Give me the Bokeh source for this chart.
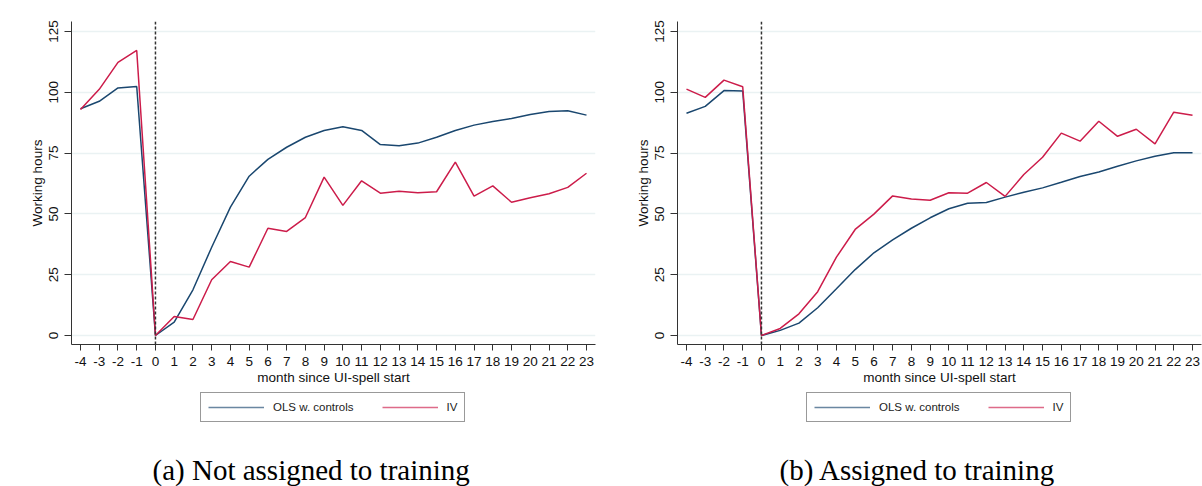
from bokeh.plotting import figure
from bokeh.layouts import row, column
from bokeh.models import Legend, LegendItem, Label, FixedTicker, Range1d, Span
from bokeh.embed import file_html
from bokeh.resources import INLINE

months = list(range(-4, 24))

ols_a = [93.2, 96.3, 101.8, 102.4, 0.0, 5.5, 18.8, 36.3, 52.8, 65.5, 72.4, 77.4, 81.5, 84.3,
         85.8, 84.3, 78.5, 78.0, 79.1, 81.5, 84.3, 86.5, 88.0, 89.2, 90.9, 92.1, 92.4, 90.6]
iv_a = [92.9, 101.2, 112.3, 117.2, 0.0, 7.8, 6.6, 22.9, 30.4, 28.1, 44.1, 42.8, 48.5, 65.1,
        53.5, 63.6, 58.5, 59.3, 58.7, 59.1, 71.3, 57.3, 61.5, 54.8, 56.6, 58.3, 60.9, 66.7]
ols_b = [91.4, 94.2, 100.7, 100.5, 0.0, 2.1, 5.1, 11.4, 19.2, 27.1, 34.0, 39.3, 44.1, 48.4,
         52.1, 54.4, 54.7, 56.9, 58.9, 60.7, 63.0, 65.4, 67.2, 69.6, 71.8, 73.7, 75.1, 75.1]
iv_b = [101.3, 97.9, 105.0, 102.3, 0.0, 2.9, 8.9, 18.0, 32.2, 43.6, 49.9, 57.4, 56.1, 55.6,
        58.7, 58.5, 62.9, 57.2, 66.2, 73.3, 83.2, 79.9, 88.1, 81.9, 84.8, 78.8, 91.8, 90.6]

y_ticks = [0, 25, 50, 75, 100, 125]
month_labels = {m: str(m) for m in months}
series_labels = ["OLS w. controls", "IV"]
captions = ["(a) Not assigned to training", "(b) Assigned to training"]

BLUE = "#1a476f"
RED = "#cc1c4a"
FONT = "Liberation Sans"
TOP_BOTTOM_BORDER = 48
BOTTOM_H = 486 - 21 - 323 - TOP_BOTTOM_BORDER


def make_panel(ols, iv, caption, left_border, right_border, cap_offset):
    p = figure(frame_width=524, frame_height=323,
               output_backend="svg", toolbar_location=None,
               x_range=Range1d(-4.48, 23.48), y_range=Range1d(-3.7, 129.1),
               min_border_left=left_border, min_border_right=right_border,
               min_border_top=21, min_border_bottom=TOP_BOTTOM_BORDER)
    p.outline_line_color = None
    p.background_fill_color = "white"
    p.border_fill_color = "white"

    p.xgrid.grid_line_color = None
    p.ygrid.grid_line_color = "#eaf2f3"
    p.ygrid.grid_line_width = 1.5

    p.xaxis.ticker = FixedTicker(ticks=months)
    p.xaxis.major_label_overrides = month_labels
    p.yaxis.ticker = FixedTicker(ticks=y_ticks)
    for ax in (p.xaxis, p.yaxis):
        ax.axis_line_color = "#333333"
        ax.major_tick_line_color = "#333333"
        ax.major_tick_out = 6
        ax.major_tick_in = 0
        ax.minor_tick_line_color = None
        ax.major_label_text_font = FONT
        ax.major_label_text_font_size = "13.5px"
        ax.major_label_text_color = "#111111"
        ax.axis_label_text_font = FONT
        ax.axis_label_text_font_size = "13.5px"
        ax.axis_label_text_font_style = "normal"
        ax.axis_label_text_color = "#111111"
    p.yaxis.major_tick_out = 7
    p.yaxis.major_label_orientation = "vertical"
    p.xaxis.axis_label = "month since UI-spell start"
    p.yaxis.axis_label = "Working hours"
    p.xaxis.major_label_standoff = 6
    p.xaxis.axis_label_standoff = 1
    p.yaxis.major_label_standoff = 6
    p.yaxis.axis_label_standoff = 2

    vline = Span(location=0, dimension="height", line_color="#333333",
                 line_dash="3 2", line_width=1.5)
    p.add_layout(vline)

    p.line(months, ols, line_color=BLUE, line_width=1.5)
    p.line(months, iv, line_color=RED, line_width=1.5)

    # bottom strip: legend box and caption (series ranges kept outside this strip's view,
    # so only the legend keys of these renderers are shown)
    q = figure(frame_width=524, frame_height=BOTTOM_H,
               output_backend="svg", toolbar_location=None,
               x_range=Range1d(1000, 1001), y_range=Range1d(1000, 1001),
               min_border_left=left_border, min_border_right=right_border,
               min_border_top=0, min_border_bottom=0)
    q.axis.visible = False
    q.grid.grid_line_color = None
    q.outline_line_color = None
    q.border_fill_color = "white"
    k1 = q.line(months, ols, line_color=BLUE, line_width=1.5, line_alpha=0.65)
    k2 = q.line(months, iv, line_color=RED, line_width=1.5, line_alpha=0.65)
    legend = Legend(items=[LegendItem(label=series_labels[0], renderers=[k1]),
                           LegendItem(label=series_labels[1], renderers=[k2])],
                    orientation="horizontal", location=(129, BOTTOM_H - 30),
                    glyph_width=56, glyph_height=14, label_standoff=9,
                    spacing=28, padding=7, margin=0, label_width=0,
                    label_text_font=FONT, label_text_font_size="11.5px",
                    label_text_color="#222222",
                    border_line_color="#333333", border_line_width=1,
                    background_fill_color="white", background_fill_alpha=1.0)
    q.add_layout(legend, "center")

    cap = Label(x=cap_offset, y=17, x_units="screen", y_units="screen",
                text=caption, text_font="Liberation Serif", text_font_size="29px",
                text_color="black", text_align="left", text_baseline="alphabetic")
    q.add_layout(cap)
    return column(p, q, spacing=0)


pa = make_panel(ols_a, iv_a, captions[0], 71, 6, 81)
pb = make_panel(ols_b, iv_b, captions[1], 76, 1, 102)

layout = row(pa, pb, spacing=0)
open("out.html", "w").write(file_html(layout, INLINE))
